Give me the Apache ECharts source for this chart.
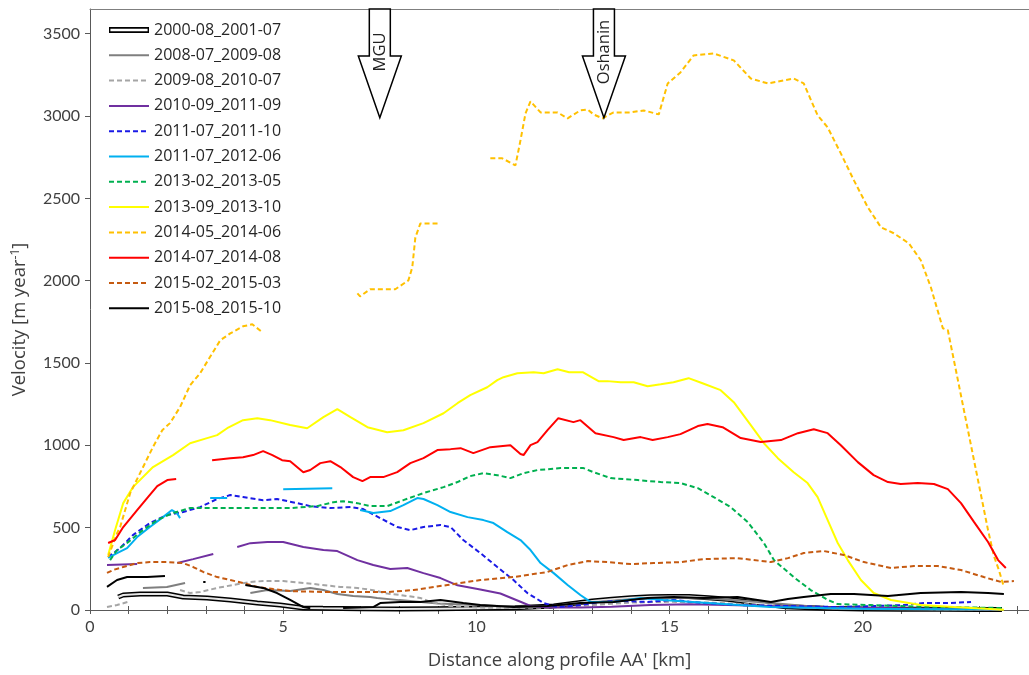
<!DOCTYPE html>
<html>
<head>
<meta charset="utf-8">
<script src="https://cdn.jsdelivr.net/npm/echarts@6/dist/echarts.min.js"></script>
<style>
html,body{margin:0;padding:0;background:#fff;}
#chart{width:1029px;height:675px;}
</style>
</head>
<body>
<div id="chart"></div>
<script>
// ---------------- DATA ----------------
const seriesNames = [
  '2000-08_2001-07','2008-07_2009-08','2009-08_2010-07','2010-09_2011-09',
  '2011-07_2011-10','2011-07_2012-06','2013-02_2013-05','2013-09_2013-10',
  '2014-05_2014-06','2014-07_2014-08','2015-02_2015-03','2015-08_2015-10'
];
const xTickLabels = [0, 5, 10, 15, 20];
const yTickLabels = [0, 500, 1000, 1500, 2000, 2500, 3000, 3500];
const arrowLabels = ['MGU', 'Oshanin'];
const arrowX = [7.5, 13.3];          // km
const arrowTipV = [2990, 2990];       // m/yr at the arrow tips

// each series: list of segments, each segment a list of [km, m/yr]
const v2000_08 = [[[0.73,79],[0.86,91],[1.30,97],[2.0,97],[2.41,79],[3.03,73],[3.63,61],[4.33,42],[4.92,30],[5.52,12],[6.03,10],[7,8],[8,6],[9,8],[10,10],[11,14],[12,25],[12.5,40],[13,55],[13.5,65],[14,75],[14.5,80],[15,82],[15.5,82],[16,75],[16.5,65],[17,50],[17.5,35],[18,20],[19,10],[20,6],[21,5],[22,4],[23,3],[23.6,3]]];
const v2008_07 = [[[1.37,134],[1.99,140],[2.46,164]],
  [[4.15,103],[4.59,121],[5.18,115],[5.70,134],[6.04,121],[6.40,97],[6.81,85],[7.25,79],[7.43,73],[8,60],[9,40],[10,30],[11,20],[12,25],[13,45],[14,65],[15,75],[16,70],[17,55],[18,35],[19,15],[20,8],[22,5],[23.5,3]]];
const v2009_08 = [[[0.44,18],[0.70,30],[0.98,49]],
  [[2.33,121],[2.59,103],[2.85,109],[3.29,134],[3.70,152],[4.15,170],[4.48,176],[5.00,176],[5.52,164],[5.78,158],[6.48,140],[6.92,134],[7.33,120],[7.69,100],[8.03,91],[8.55,73],[8.81,49],[9.3,25],[10,15],[11,12],[12,15],[13,30],[14,45],[15,50],[16,45],[17,35],[18,20],[19,12],[20,8],[22,5],[23.5,4]]];
const v2010_09 = [[[0.44,273],[1.22,279]],
  [[2.26,285],[2.67,309],[3.19,340]],
  [[3.81,383],[4.15,406],[4.59,413],[5.00,413],[5.52,383],[6.04,364],[6.40,358],[6.92,303],[7.33,273],[7.77,249],[8.21,255],[8.63,224],[9.07,194],[9.51,150],[10.10,125],[10.62,100],[11.14,50],[11.4,25],[11.9,15],[12.7,15],[13.5,20],[14.5,30],[15.5,35],[16.5,30],[17.5,25],[18.5,20],[19.5,15],[20.5,12],[22,8],[23.5,5]]];
const v2011_07a = [[[0.47,322],[0.78,376],[1.11,455],[1.55,528],[1.99,577],[2.41,595],[2.85,625],[3.29,674],[3.63,698],[3.96,686],[4.48,667],[4.84,674],[5.36,649],[5.70,631],[6.22,619],[6.74,625],[7.07,613],[7.51,558],[7.95,504],[8.29,485],[8.63,504],[9.07,516],[9.33,504],[9.66,425],[10.10,346],[10.54,261],[10.96,182],[11.32,103],[11.74,42],[12.10,18],[12.69,30],[13.21,49],[13.73,55],[14.43,49],[15.10,61],[15.88,42],[16.75,30],[19.35,18],[21.06,30],[21.58,42],[22.20,42],[22.8,49]]];
const v2011_07b = [[[0.47,316],[0.70,346],[0.96,376],[1.22,443],[1.55,504],[1.89,564],[2.12,607],[2.25,589],[2.33,558]],
  [[3.11,680],[3.55,680]],
  [[5.00,734],[6.27,740]],
  [[6.99,607],[7.33,589],[7.77,601],[8.11,637],[8.47,680],[8.63,674],[8.99,637],[9.33,595],[9.77,564],[10.18,546],[10.44,528],[10.80,473],[11.14,425],[11.40,364],[11.66,285],[12.0,224],[12.36,152],[12.69,91],[12.95,49],[13.55,49],[14.25,73],[14.84,61],[15.5,50],[16.8,30],[17.6,18],[19,12],[20,8],[22,5],[23.5,4]]];
const v2013_02 = [[[0.52,303],[0.70,364],[0.96,407],[1.30,473],[1.74,546],[2.15,589],[2.59,619],[3.03,619],[3.45,619],[4.33,619],[5.18,619],[5.88,631],[6.30,655],[6.55,661],[6.92,649],[7.25,631],[7.69,631],[8.11,667],[8.63,710],[9.15,746],[9.51,777],[9.84,813],[10.18,831],[10.54,819],[10.88,801],[11.22,831],[11.58,850],[12.18,862],[12.77,862],[13.03,837],[13.47,801],[14.17,789],[14.77,777],[15.28,771],[15.73,740],[16.14,686],[16.58,625],[17.02,534],[17.44,407],[17.70,303],[18.21,200],[18.65,121],[19.09,61],[19.35,36],[20.21,30],[21.5,20],[23.65,12]]];
const v2013_09 = [[[0.47,334],[0.65,486],[0.86,649],[1.11,746],[1.63,868],[2.15,941],[2.59,1013],[3.03,1044],[3.29,1062],[3.55,1104],[3.96,1153],[4.33,1165],[4.66,1153],[5.18,1123],[5.62,1104],[6.04,1171],[6.40,1220],[6.74,1171],[7.18,1110],[7.69,1080],[8.11,1092],[8.63,1135],[9.15,1195],[9.51,1256],[9.84,1305],[10.28,1353],[10.54,1396],[10.70,1414],[11.06,1438],[11.48,1444],[11.74,1438],[12.10,1462],[12.40,1444],[12.75,1444],[13.16,1390],[13.39,1390],[13.73,1383],[14.07,1383],[14.43,1359],[14.77,1371],[15.10,1383],[15.49,1408],[15.85,1377],[16.32,1335],[16.66,1262],[17.10,1123],[17.44,1013],[17.80,922],[18.21,837],[18.57,771],[18.83,686],[19.09,546],[19.35,407],[19.61,303],[19.95,182],[20.28,103],[20.73,61],[21.50,30],[22.36,18],[23.65,2]]];
const v2014_05 = [[[0.47,322],[0.70,467],[0.78,504],[1.04,710],[1.63,990],[1.87,1092],[2.07,1135],[2.33,1232],[2.59,1365],[2.85,1438],[3.37,1638],[3.63,1680],[3.96,1723],[4.20,1735],[4.43,1693]],
  [[6.92,1923],[6.99,1905],[7.25,1948],[7.90,1948],[8.24,2002],[8.34,2081],[8.42,2263],[8.55,2348],[9.02,2348]],
  [[10.36,2743],[10.67,2743],[11.01,2700],[11.14,2852],[11.27,3016],[11.40,3089],[11.66,3022],[12.10,3022],[12.36,2986],[12.69,3034],[12.88,3040],[13.03,3010],[13.26,2986],[13.55,3022],[13.99,3022],[14.33,3034],[14.72,3010],[14.95,3198],[15.28,3265],[15.62,3368],[16.14,3380],[16.66,3338],[17.10,3228],[17.54,3198],[17.95,3216],[18.21,3228],[18.47,3198],[18.83,3004],[19.09,2931],[19.43,2773],[19.77,2609],[20.13,2445],[20.47,2324],[20.80,2288],[21.19,2227],[21.50,2124],[21.76,1960],[22.07,1711],[22.20,1699],[22.46,1396],[22.72,1092],[22.98,789],[23.24,485],[23.39,330],[23.52,243],[23.65,140]]];
const v2014_07 = [[[0.47,407],[0.65,425],[0.86,504],[1.22,607],[1.50,686],[1.74,752],[2.00,789],[2.23,795]],
  [[3.16,910],[3.63,922],[3.96,928],[4.22,941],[4.48,965],[4.72,941],[4.97,910],[5.18,904],[5.52,837],[5.70,850],[5.96,892],[6.22,904],[6.48,868],[6.81,807],[7.05,783],[7.25,807],[7.59,807],[7.95,837],[8.29,892],[8.63,922],[8.99,971],[9.33,977],[9.59,983],[9.92,953],[10.36,989],[10.88,1001],[11.14,947],[11.22,941],[11.40,1001],[11.58,1020],[11.84,1092],[12.12,1165],[12.51,1141],[12.69,1153],[13.08,1074],[13.55,1050],[13.81,1032],[14.25,1050],[14.56,1032],[14.95,1050],[15.28,1068],[15.73,1117],[15.98,1129],[16.37,1110],[16.84,1044],[17.36,1020],[17.88,1032],[18.32,1074],[18.73,1098],[19.09,1074],[19.43,1001],[19.87,898],[20.28,819],[20.65,777],[20.98,765],[21.42,771],[21.84,765],[22.20,734],[22.54,649],[22.88,534],[23.24,413],[23.50,303],[23.70,255]]];
const v2015_02 = [[[0.44,225],[0.60,243],[0.86,261],[1.22,285],[1.55,291],[1.99,291],[2.41,285],[2.67,261],[2.93,231],[3.29,200],[3.63,182],[3.96,164],[4.33,140],[4.74,127],[5.18,115],[6.04,109],[6.92,109],[7.69,109],[8.37,121],[9.25,152],[10.10,182],[10.96,200],[11.84,231],[12.36,273],[12.88,297],[13.39,291],[13.99,279],[14.59,285],[15.28,291],[15.88,309],[16.76,315],[17.62,291],[18.06,315],[18.47,346],[18.99,358],[19.51,334],[20.03,291],[20.73,255],[21.32,267],[21.94,267],[22.54,243],[23.13,200],[23.58,170],[23.91,176]]];
const v2015_08 = [[[0.44,140],[0.70,182],[0.96,200],[1.48,200],[1.94,206]],
  [[2.93,170],[2.99,170]],
  [[4.02,152],[4.48,134],[4.84,103],[5.18,61],[5.52,18],[5.70,10]],
  [[6.55,12],[7.33,18],[7.51,42],[8.03,49],[8.55,49],[9.07,61],[9.66,42],[10.10,30],[10.96,18],[11.84,24],[12.69,42],[13.55,49],[14.43,73],[15.10,79],[15.88,73],[16.76,79],[17.62,49],[18.06,67],[18.47,79],[19.17,97],[19.77,97],[20.65,85],[21.50,103],[22.54,109],[23.24,103],[23.65,97]]];

const seriesValues = [v2000_08, v2008_07, v2009_08, v2010_09, v2011_07a, v2011_07b,
                      v2013_02, v2013_09, v2014_05, v2014_07, v2015_02, v2015_08];
const seriesColors = ['#000000','#7f7f7f','#a5a5a5','#7030a0','#1a1ae6','#00b0f0',
                      '#00b050','#ffff00','#ffc000','#ff0000','#c55a11','#000000'];
const seriesDashed = [false,false,true,false,true,false,true,false,true,false,true,false];

// ---------------- BUILD ----------------
function joinSegs(segs){
  const out = [];
  segs.forEach((s, i) => {
    if (i > 0) out.push([(segs[i-1][segs[i-1].length-1][0] + s[0][0]) / 2, '-']);
    s.forEach(p => out.push(p));
  });
  return out;
}

const FONT = 'Lato';
const FONT2 = 'Open Sans';
const series = [];
seriesNames.forEach((n, i) => {
  series.push({
    name: n, type: 'line', symbol: 'none', showSymbol: false,
    data: joinSegs(seriesValues[i]),
    connectNulls: false,
    itemStyle: { color: seriesColors[i] },
    lineStyle: { color: seriesColors[i], width: i === 0 ? 5 : 2, type: seriesDashed[i] ? [5, 3] : 'solid' },
    z: 2 + i
  });
  if (i === 0) {
    series.push({
      name: n + ' (inner)', type: 'line', symbol: 'none', silent: true,
      data: joinSegs(seriesValues[i]),
      lineStyle: { color: '#e6e6e6', width: 2 },
      z: 3
    });
  }
});

const legendData = seriesNames.map((n, i) => i === 0
  ? { name: n, icon: 'path://M0,0L40,0L40,6L0,6Z M1.4,1.8L1.4,4.2L38.6,4.2L38.6,1.8Z', itemStyle: { color: '#000', opacity: 1 } }
  : { name: n });

const chart = echarts.init(document.getElementById('chart'), null, { renderer: 'canvas' });
const axisColor = '#595959';
const option = {
  animation: false,
  backgroundColor: '#ffffff',
  textStyle: { fontFamily: FONT },
  grid: { left: 90, right: 0, top: 9, bottom: 65, containLabel: false },
  legend: {
    data: legendData, orient: 'vertical', left: 103, top: 17,
    itemWidth: 40, itemHeight: 14, itemGap: 9.3,
    itemStyle: { opacity: 0 },
    textStyle: { fontFamily: FONT2, fontSize: 16, color: '#262626', lineHeight: 16 },
    selectedMode: false
  },
  xAxis: [{
    type: 'value', min: 0, max: 24.3, interval: 1, position: 'bottom',
    name: "Distance along profile AA' [km]", nameLocation: 'middle', nameGap: 41,
    nameTextStyle: { fontFamily: FONT2, fontSize: 18.5, color: '#404040' },
    axisLine: { show: true, onZero: false, lineStyle: { color: axisColor, width: 1 } },
    axisTick: { show: true, inside: false, length: 4, lineStyle: { color: axisColor } },
    axisLabel: {
      fontFamily: FONT, fontSize: 16, color: '#404040', margin: 9, showMaxLabel: false,
      formatter: v => xTickLabels.some(t => Math.abs(t - v) < 1e-6) ? String(Math.round(v)) : ''
    },
    splitLine: { show: false }
  }, {
    type: 'value', min: 0, max: 24.3, interval: 1, position: 'bottom',
    axisLine: { show: false }, axisLabel: { show: false },
    axisTick: { show: true, inside: true, length: 4, lineStyle: { color: axisColor } },
    splitLine: { show: false }
  }, {
    type: 'value', min: 0, max: 24.3, position: 'top',
    axisLine: { show: true, lineStyle: { color: '#7f7f7f', width: 1 } },
    axisTick: { show: false }, axisLabel: { show: false }, splitLine: { show: false }
  }],
  yAxis: [{
    type: 'value', min: 0, max: 3650, interval: 500,
    name: 'Velocity [m year{sup|-1}]', nameLocation: 'middle', nameGap: 60, nameRotate: 90,
    nameTextStyle: { fontFamily: FONT2, fontSize: 18.5, color: '#404040', padding: [0, 20, 0, 0],
      rich: { sup: { fontFamily: FONT2, fontSize: 12, color: '#404040', verticalAlign: 'top', padding: [0, 0, 8, 0] } } },
    axisLine: { show: true, lineStyle: { color: axisColor, width: 1 } },
    axisTick: { show: true, inside: false, length: 5, lineStyle: { color: axisColor } },
    axisLabel: {
      fontFamily: FONT, fontSize: 16, color: '#404040', margin: 10, showMaxLabel: false,
      formatter: v => yTickLabels.indexOf(v) >= 0 ? String(v) : ''
    },
    splitLine: { show: false }
  }],
  series: series
};
chart.setOption(option);

// ---------------- ARROW ANNOTATIONS ----------------
const topY = 9;
const graphics = [];
arrowLabels.forEach((lab, i) => {
  const px = chart.convertToPixel({ xAxisIndex: 0 }, arrowX[i]);
  const tipY = chart.convertToPixel({ yAxisIndex: 0 }, arrowTipV[i]);
  const headY = topY + 47;
  const sw = 10.5, hw = 21.5;
  graphics.push({
    type: 'polygon', z: 100,
    shape: { points: [[px - sw, topY], [px + sw, topY], [px + sw, headY], [px + hw, headY], [px, tipY], [px - hw, headY], [px - sw, headY]] },
    style: { fill: '#ffffff', stroke: '#000000', lineWidth: 1.5 }
  });
  graphics.push({
    type: 'text', z: 101, x: px, y: 52, rotation: Math.PI / 2,
    style: { text: lab, fontFamily: FONT2, fontSize: 16.5, fill: '#222222', align: 'center', verticalAlign: 'middle' }
  });
});
chart.setOption({ graphic: graphics });
</script>
</body>
</html>
